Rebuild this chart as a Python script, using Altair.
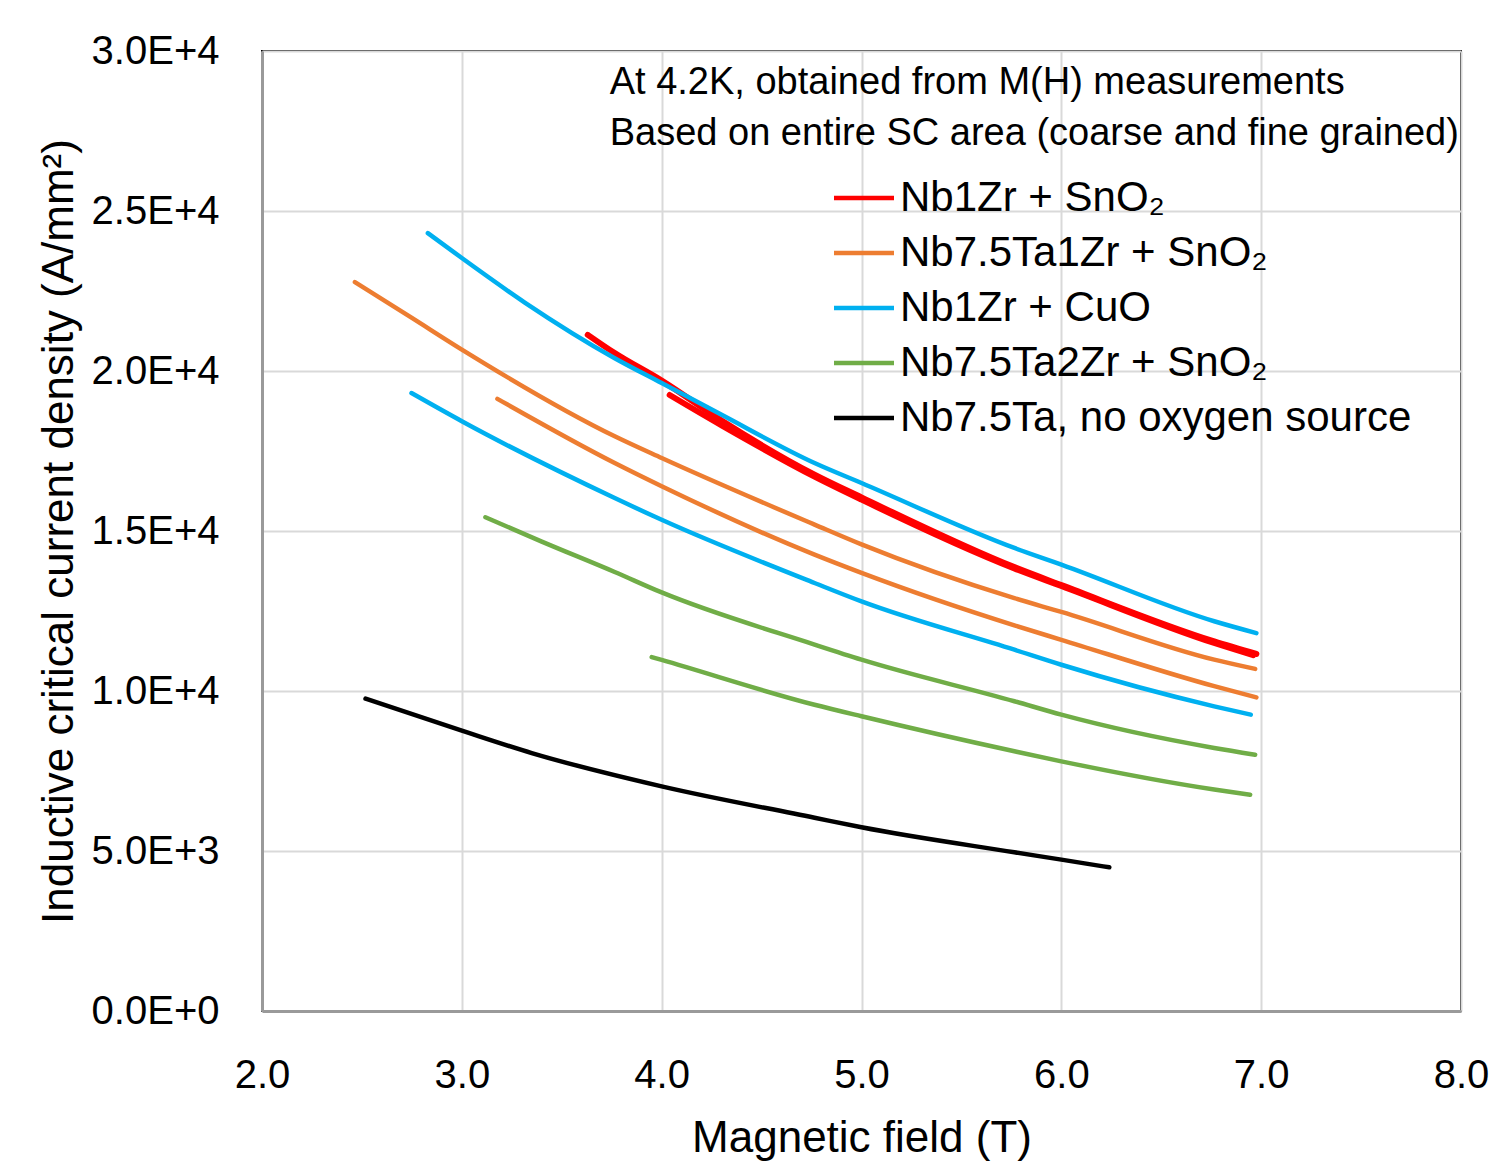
import altair as alt
import pandas as pd

# ---------------- data ----------------
MATERIALS = [
    "Nb1Zr + SnO₂",
    "Nb7.5Ta1Zr + SnO₂",
    "Nb1Zr + CuO",
    "Nb7.5Ta2Zr + SnO₂",
    "Nb7.5Ta, no oxygen source",
]
COLORS = ["#FF0000", "#ED7D31", "#00B0F0", "#70AD47", "#000000"]

red1_x = [3.63, 3.765, 4.0, 4.3, 4.765, 5.0, 5.765, 6.0, 6.765, 6.976]
red1_y = [21130, 20560, 19700, 18450, 16760, 16050, 13870, 13310, 11550, 11160]
red2_x = [4.04, 4.3, 4.765, 5.0, 5.765, 6.0, 6.765, 6.96]
red2_y = [19250, 18300, 16700, 15980, 13830, 13280, 11500, 11120]

orange1_x = [2.465, 2.75, 3.0, 3.765, 4.0, 4.765, 5.0, 5.765, 6.0, 6.765, 6.97]
orange1_y = [22780, 21660, 20670, 17960, 17280, 15200, 14580, 12900, 12470, 10980, 10690]
orange2_x = [3.178, 3.765, 4.0, 4.765, 5.0, 5.765, 6.0, 6.765, 6.976]
orange2_y = [19130, 17125, 16400, 14260, 13690, 12050, 11600, 10150, 9800]

blue1_x = [2.83, 3.0, 3.315, 3.765, 4.0, 4.3, 4.765, 5.0, 5.765, 6.0, 6.765, 6.976]
blue1_y = [24310, 23530, 22140, 20400, 19625, 18630, 17125, 16500, 14470, 13950, 12180, 11810]
blue2_x = [2.748, 3.0, 3.765, 4.0, 4.765, 5.0, 5.765, 6.0, 6.765, 6.948]
blue2_y = [19310, 18430, 16030, 15350, 13375, 12800, 11290, 10820, 9520, 9260]

green1_x = [3.118, 3.4, 3.765, 4.0, 4.765, 5.0, 5.765, 6.0, 6.765, 6.97]
green1_y = [15430, 14670, 13720, 13080, 11450, 10980, 9680, 9260, 8220, 8010]
green2_x = [3.95, 4.0, 4.765, 5.0, 5.765, 6.0, 6.765, 6.945]
green2_y = [11060, 10970, 9570, 9210, 8115, 7800, 6920, 6760]

black_x = [2.518, 3.0, 3.35, 4.0, 4.765, 5.0, 5.765, 6.0, 6.24]
black_y = [9760, 8760, 8060, 7020, 6040, 5740, 4960, 4730, 4490]

X_TICKS = [2, 3, 4, 5, 6, 7, 8]
Y_TICKS = [0, 5000, 10000, 15000, 20000, 25000, 30000]

ANNOT_LINES = [
    "At 4.2K, obtained from M(H) measurements",
    "Based on entire SC area (coarse and fine grained)",
]

X_TITLE = "Magnetic field (T)"
Y_TITLE = "Inductive critical current density (A/mm²)"

# ---------------- build table ----------------
CURVES = [
    (MATERIALS[0], "red1", red1_x, red1_y),
    (MATERIALS[0], "red2", red2_x, red2_y),
    (MATERIALS[1], "orange1", orange1_x, orange1_y),
    (MATERIALS[1], "orange2", orange2_x, orange2_y),
    (MATERIALS[2], "blue1", blue1_x, blue1_y),
    (MATERIALS[2], "blue2", blue2_x, blue2_y),
    (MATERIALS[3], "green1", green1_x, green1_y),
    (MATERIALS[3], "green2", green2_x, green2_y),
    (MATERIALS[4], "black1", black_x, black_y),
]
rows = []
for mat, sample, xs, ys in CURVES:
    for x, y in zip(xs, ys):
        rows.append({"material": mat, "sample": sample, "field": x, "jc": y})
df = pd.DataFrame(rows)

# annotation placement (data coordinates)
annot = pd.DataFrame({
    "text": ANNOT_LINES,
    "x": [3.74, 3.74],
    "y": [29000, 27410],
})

FONT = "Liberation Sans, Arial, sans-serif"

xscale = alt.Scale(domain=[2, 8], nice=False, zero=False)
yscale = alt.Scale(domain=[0, 30000], nice=False)

lines = alt.Chart(df).mark_line(
    interpolate="monotone", strokeCap="round", strokeJoin="round"
).encode(
    x=alt.X(
        "field:Q",
        scale=xscale,
        axis=alt.Axis(
            values=X_TICKS,
            format=".1f",
            title=X_TITLE,
            titleY=127,
            titleBaseline="middle",
            labelPadding=44,
            labelFlush=False,
        ),
    ),
    y=alt.Y(
        "jc:Q",
        scale=yscale,
        axis=alt.Axis(
            values=Y_TICKS,
            labelExpr="replace(format(datum.value, '.1e'), 'e', 'E')",
            title=Y_TITLE,
            titleX=-203,
            titleY=480,
            titleAlign="center",
            titleBaseline="middle",
            labelPadding=43,
        ),
    ),
    color=alt.Color(
        "material:N",
        scale=alt.Scale(domain=MATERIALS, range=COLORS),
        legend=alt.Legend(
            title=None,
            orient="none",
            legendX=581,
            legendY=126,
            symbolType="M-3,0H3",
            symbolSize=400,
            symbolStrokeWidth=4.5,
            labelFont=FONT,
            labelFontSize=42,
            labelColor="#000000",
            labelOffset=15,
            labelLimit=0,
            rowPadding=13,
            padding=0,
        ),
    ),
    detail="sample:N",
    strokeWidth=alt.when(alt.datum.material == MATERIALS[0])
    .then(alt.value(6))
    .otherwise(alt.value(4.5)),
)

texts = alt.Chart(annot).mark_text(
    align="left", baseline="middle", font=FONT, fontSize=38, color="#000000"
).encode(
    x=alt.X("x:Q", scale=xscale),
    y=alt.Y("y:Q", scale=yscale),
    text="text:N",
)

chart = alt.layer(lines, texts).properties(
    width=1199,
    height=960,
    autosize=alt.AutoSizeParams(type="none"),
    padding={"left": 254, "top": 43, "right": 28, "bottom": 150},
    background="white",
).configure_view(
    stroke="#000000", strokeWidth=2
).configure_axis(
    grid=True,
    gridColor="#D9D9D9",
    gridWidth=2,
    ticks=False,
    domain=True,
    domainColor="#9A9A9A",
    domainWidth=3,
    labelFont=FONT,
    labelFontSize=40,
    labelColor="#000000",
    titleFont=FONT,
    titleFontSize=44,
    titleFontWeight="normal",
    titleColor="#000000",
).configure_axisX(
    labelFontSize=40,
)

chart.save("out.html", embed_options={"renderer": "svg", "actions": False})
